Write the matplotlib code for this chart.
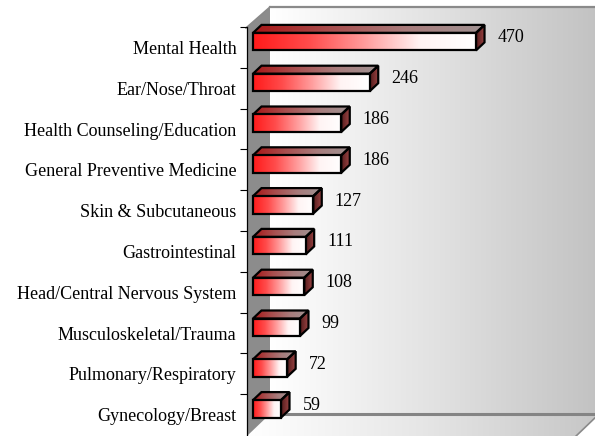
import numpy as np
import matplotlib
matplotlib.use("Agg")
import matplotlib.pyplot as plt
from matplotlib.patches import Polygon
from matplotlib.colors import LinearSegmentedColormap

categories = ["Mental Health", "Ear/Nose/Throat", "Health Counseling/Education",
              "General Preventive Medicine", "Skin & Subcutaneous", "Gastrointestinal",
              "Head/Central Nervous System", "Musculoskeletal/Trauma",
              "Pulmonary/Respiratory", "Gynecology/Breast"]
values = [470, 246, 186, 186, 127, 111, 108, 99, 72, 59]

W, H = 595, 436
FONT = "Liberation Serif"
plt.rcParams["font.family"] = [FONT, "DejaVu Serif"]

fig = plt.figure(figsize=(W / 100, H / 100), dpi=100)
fig.patch.set_facecolor("white")

# ---- plot-area box (walls and floor), laid out in pixel space ----
bg = fig.add_axes([0, 0, 1, 1], zorder=0)
bg.set_xlim(0, W)
bg.set_ylim(H, 0)
bg.axis("off")

ax_x, top_y, back_x, floor_y = 247, 27, 270, 414
depth_dx = back_x - ax_x


def shaded(axis, verts, colors, zorder, ec="none", lw=0.0, vertical=False):
    verts = np.asarray(verts, dtype=float)
    x0, x1 = verts[:, 0].min(), verts[:, 0].max()
    y0, y1 = verts[:, 1].min(), verts[:, 1].max()
    cmap = LinearSegmentedColormap.from_list("shade", colors)
    g = np.linspace(0, 1, 256)
    img = g[:, None] if vertical else g[None, :]
    im = axis.imshow(img, cmap=cmap, extent=(x0, x1, y0, y1), aspect="auto",
                     interpolation="bilinear", zorder=zorder, origin="lower")
    poly = Polygon(verts, closed=True, fc="none", ec=ec, lw=lw,
                   zorder=zorder + 0.01, joinstyle="miter")
    axis.add_patch(poly)
    im.set_clip_path(poly)
    return poly


right_x = W + 4
# back wall
shaded(bg, [(back_x, 7), (right_x, 7), (right_x, floor_y), (back_x, floor_y)],
       ["#ffffff", "#e2e2e2", "#c2c2c2"], zorder=1)
# floor
shaded(bg, [(back_x, floor_y), (right_x, floor_y), (right_x - depth_dx, H),
            (ax_x, H)], ["#ffffff", "#e6e6e6", "#c6c6c6"], zorder=1)
# side wall
bg.add_patch(Polygon([(ax_x, top_y), (back_x, 7), (back_x, floor_y), (ax_x, H)],
                     closed=True, fc="#8c8c8c", ec="none", zorder=2))
bg.plot([ax_x - 1, back_x], [top_y + 1, 7], color="#8a8a8a", lw=1.2, zorder=3)
bg.plot([back_x, right_x], [7.5, 7.5], color="#8a8a8a", lw=1.6, zorder=3)
bg.plot([back_x, right_x], [floor_y, floor_y], color="#848484", lw=2.2, zorder=3)
bg.plot([right_x, right_x - depth_dx - 2], [floor_y, H + 2], color="#8a8a8a", lw=1.2, zorder=3)

# ---- bars in data space ----
sx = 0.4745          # pixels per unit of value
row = 40.8           # pixels per category
x_zero = 253         # pixel of value 0
y_first = 47.4       # pixel of the first category centre

ax = fig.add_axes([ax_x / W, 0, 1 - ax_x / W, 1], zorder=1)
ax.patch.set_alpha(0)
xmin = (ax_x - x_zero) / sx
xmax = (W - x_zero) / sx
ymin = -y_first / row
ymax = (H - y_first) / row

dxv = 8.5 / sx       # bar depth, value units
dyv = -8.0 / row     # bar depth, category units
f_top = -14.5 / row
f_bot = 3.0 / row

front_cols = ["#ff1a1a", "#ff4c4c", "#ff9c9c", "#fff4f4", "#ffffff"]
top_cols = ["#a81616", "#a84e4e", "#a87c7c", "#a09292"]
side_cols = ["#561e1e", "#783030", "#9c4646"]

for i, v in enumerate(values):
    yt, yb = i + f_top, i + f_bot
    front = [(0, yt), (v, yt), (v, yb), (0, yb)]
    top = [(0, yt), (dxv, yt + dyv), (v + dxv, yt + dyv), (v, yt)]
    side = [(v, yt), (v + dxv, yt + dyv), (v + dxv, yb + dyv), (v, yb)]
    shaded(ax, top, top_cols, zorder=3, ec="black", lw=1.6)
    shaded(ax, side, side_cols, zorder=3, ec="black", lw=1.6)
    shaded(ax, front, front_cols, zorder=4, ec="black", lw=1.6)
    ax.text(v + dxv + 13 / sx, i - 9.5 / row, f"{v}", ha="left", va="center",
            fontsize=13, family=FONT, color="black", zorder=5)

ax.set_xlim(xmin, xmax)
ax.set_ylim(ymax, ymin)

# ---- category axis ----
for side in ("top", "right", "bottom"):
    ax.spines[side].set_visible(False)
ax.spines["left"].set_bounds(-0.5, ymax)
ax.spines["left"].set_linewidth(0.9)
ax.set_xticks([])
ax.set_yticks(range(len(categories)))
ax.set_yticklabels(categories, fontsize=13, family=FONT)
ax.tick_params(axis="y", which="major", length=0, pad=7.5)
ax.set_yticks(np.arange(len(categories)) - 0.5, minor=True)
ax.tick_params(axis="y", which="minor", length=5, width=0.8, color="black")

fig.savefig("out.png", dpi=100, facecolor="white")
